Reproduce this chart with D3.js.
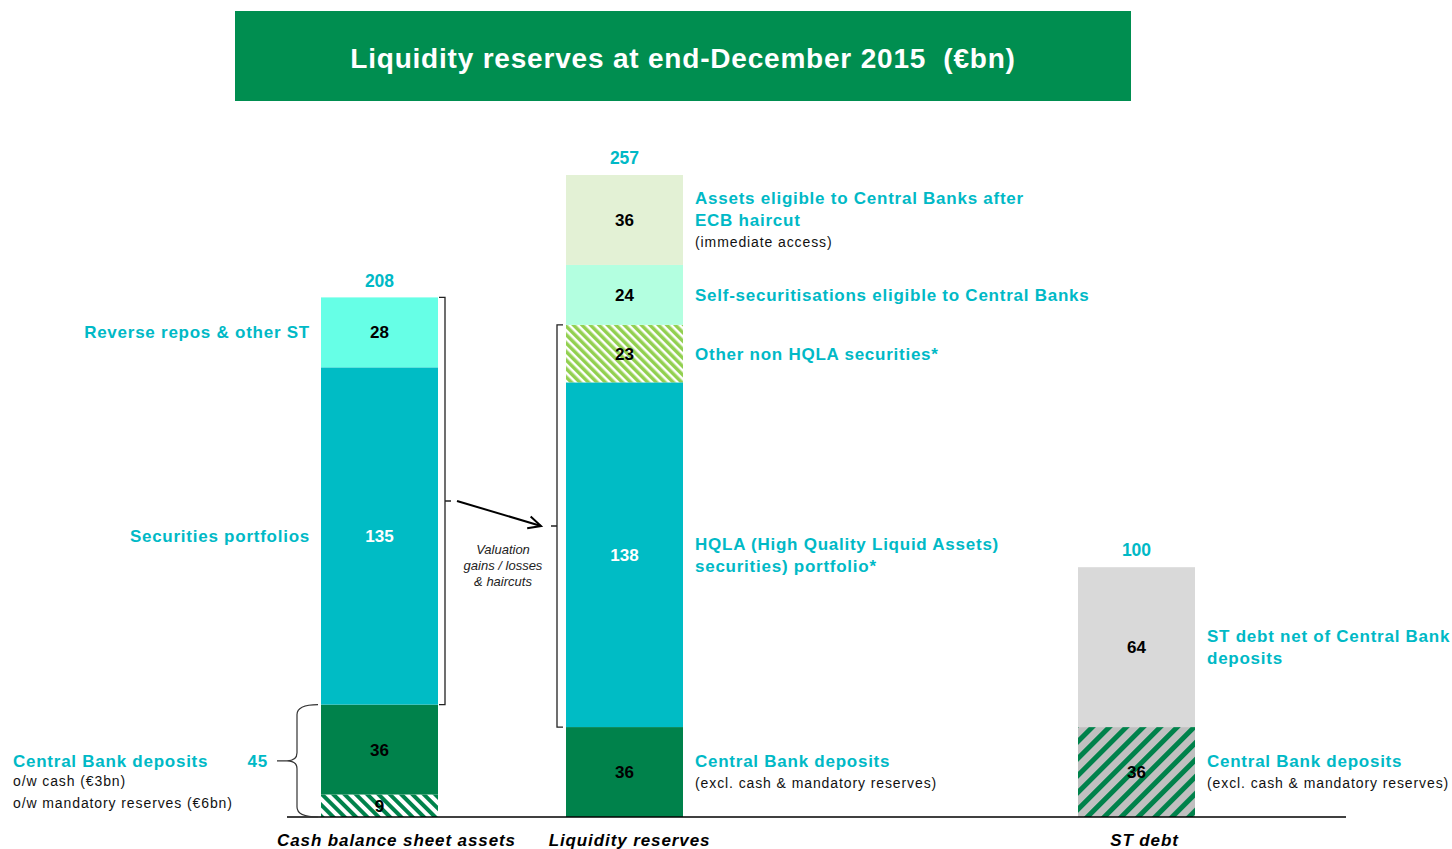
<!DOCTYPE html>
<html>
<head>
<meta charset="utf-8">
<script src="https://cdn.jsdelivr.net/npm/d3@7"></script>
<style>
  body { margin: 0; background: #fff; }
  svg { font-family: "Liberation Sans", Arial, sans-serif; }
</style>
</head>
<body>
<div id="chart"></div>
<script>
// Data
const categories = ['Cash balance sheet assets', 'Liquidity reserves', 'ST debt']
const totals = [208, 257, 100]

const cashSegments = [9, 36, 135, 28]
const cashFills = ['url(#hatchDark)', '#00824B', '#00BCC5', '#66FFE6']
const cashText = ['#000', '#000', '#fff', '#000']

const reserveSegments = [36, 138, 23, 24, 36]
const reserveFills = ['#00824B', '#00BCC5', 'url(#hatchLight)', '#B3FFE0', '#E3F1D5']
const reserveText = ['#000', '#fff', '#000', '#000', '#000']

const debtSegments = [36, 64]
const debtFills = ['url(#hatchGrey)', '#D9D9D9']
const debtText = ['#000', '#000']

const cashLabels = [null, null, ['Securities portfolios'], ['Reverse repos & other ST']]
const reserveLabels = [
  [['Central Bank deposits', 'b'], ['(excl. cash & mandatory reserves)', 's']],
  [['HQLA (High Quality Liquid Assets)', 'b'], ['securities) portfolio*', 'b']],
  [['Other non HQLA securities*', 'b']],
  [['Self-securitisations eligible to Central Banks', 'b']],
  [['Assets eligible to Central Banks after', 'b'], ['ECB haircut', 'b'], ['(immediate access)', 's']]
]
const debtLabels = [
  [['Central Bank deposits', 'b'], ['(excl. cash & mandatory reserves)', 's']],
  [['ST debt net of Central Bank', 'b'], ['deposits', 'b']]
]
const cbTotal = 45
const cbNotes = ['o/w cash (€3bn)', 'o/w mandatory reserves (€6bn)']
const valuationNote = ['Valuation', 'gains / losses', '& haircuts']

const teal = '#00B9C6'
const width = 1452
const height = 849
const barWidth = 117

let svg = d3.select('#chart').append('svg')
  .attr('width', width)
  .attr('height', height)

// Patterns
let defs = svg.append('defs')
let makeHatch = function (id, bg, fg, size, stripe, angle) {
  let p = defs.append('pattern')
    .attr('id', id)
    .attr('patternUnits', 'userSpaceOnUse')
    .attr('width', size)
    .attr('height', size)
    .attr('patternTransform', `rotate(${angle})`)
  p.append('rect').attr('width', size).attr('height', size).attr('fill', bg)
  p.append('rect').attr('width', stripe).attr('height', size).attr('fill', fg)
}
makeHatch('hatchDark', '#fff', '#00824B', 8, 4, -45)
makeHatch('hatchLight', '#fff', '#92D050', 6, 3.5, -45)
makeHatch('hatchGrey', '#C0C0C0', '#00824B', 12, 5, 45)

// Title
svg.append('rect')
  .attr('x', 235).attr('y', 11)
  .attr('width', 896).attr('height', 90)
  .attr('fill', '#008E50')
svg.append('text')
  .attr('x', 683).attr('y', 58)
  .attr('dy', '0.35em')
  .attr('text-anchor', 'middle')
  .attr('fill', '#fff')
  .style('font-size', '28px')
  .style('font-weight', 'bold')
  .style('letter-spacing', '0.8px')
  .style('white-space', 'pre')
  .text('Liquidity reserves at end-December 2015  (€bn)')

// Scales
let x = d3.scaleOrdinal()
  .domain(categories)
  .range([379.5, 624.5, 1136.5])
let y = d3.scaleLinear()
  .domain([0, 257])
  .range([817, 175])

let stack = function (values) {
  let acc = 0
  return values.map(v => {
    let s = { y0: acc, y1: acc + v, value: v }
    acc += v
    return s
  })
}

let drawBar = function (cat, values, fills, textColors) {
  let cx = x(cat)
  let segs = stack(values)
  let g = svg.append('g')
  g.selectAll('rect')
    .data(segs)
    .enter()
    .append('rect')
    .attr('x', cx - barWidth / 2)
    .attr('width', barWidth)
    .attr('y', d => y(d.y1))
    .attr('height', d => y(d.y0) - y(d.y1))
    .attr('fill', (d, i) => fills[i])
  g.selectAll('text')
    .data(segs)
    .enter()
    .append('text')
    .attr('x', cx)
    .attr('y', d => (y(d.y0) + y(d.y1)) / 2)
    .attr('dy', '0.35em')
    .attr('text-anchor', 'middle')
    .attr('fill', (d, i) => textColors[i])
    .style('font-size', '17px')
    .style('font-weight', 'bold')
    .text(d => d.value)
  return segs
}

let cashSegs = drawBar(categories[0], cashSegments, cashFills, cashText)
let reserveSegs = drawBar(categories[1], reserveSegments, reserveFills, reserveText)
let debtSegs = drawBar(categories[2], debtSegments, debtFills, debtText)

// Totals
svg.selectAll('.total')
  .data(categories)
  .enter()
  .append('text')
  .attr('class', 'total')
  .attr('x', d => x(d))
  .attr('y', (d, i) => y(totals[i]) - 17)
  .attr('dy', '0.35em')
  .attr('text-anchor', 'middle')
  .attr('fill', teal)
  .style('font-size', '17.5px')
  .style('font-weight', 'bold')
  .text((d, i) => totals[i])

// Baseline
svg.append('line')
  .attr('x1', 287).attr('x2', 1346)
  .attr('y1', y(0)).attr('y2', y(0))
  .attr('stroke', '#000')
  .attr('stroke-width', 1.5)

// Category labels
svg.selectAll('.cat')
  .data(categories)
  .enter()
  .append('text')
  .attr('class', 'cat')
  .attr('x', (d, i) => x(d) + [17, 5, 8][i])
  .attr('y', 840)
  .attr('dy', '0.35em')
  .attr('text-anchor', 'middle')
  .style('font-size', '17px')
  .style('font-weight', 'bold')
  .style('font-style', 'italic')
  .style('letter-spacing', '0.9px')
  .text(d => d)

// Side labels (multi-line, block centred on segment)
let styleLine = function (sel, kind) {
  sel.attr('fill', kind === 'b' ? teal : '#111')
    .style('font-size', kind === 'b' ? '17px' : '14px')
    .style('font-weight', kind === 'b' ? 'bold' : 'normal')
    .style('letter-spacing', kind === 'b' ? '0.75px' : '0.9px')
}
let drawLabels = function (segs, labels, lx, anchor) {
  segs.forEach((s, i) => {
    let lines = labels[i]
    if (!lines) return
    lines = lines.map(l => Array.isArray(l) ? l : [l, 'b'])
    let cy = (y(s.y0) + y(s.y1)) / 2
    let lh = 22
    let start = cy - (lines.length - 1) * lh / 2
    lines.forEach((l, j) => {
      svg.append('text')
        .attr('x', lx)
        .attr('y', start + j * lh)
        .attr('dy', '0.35em')
        .attr('text-anchor', anchor)
        .call(styleLine, l[1])
        .text(l[0])
    })
  })
}
drawLabels(cashSegs, cashLabels, 310, 'end')
drawLabels(reserveSegs, reserveLabels, 695, 'start')
drawLabels(debtSegs, debtLabels, 1207, 'start')

// Curly brace round the central bank deposits (9 + 36)
let braceTop = y(cashSegs[1].y1)
let braceBot = y(0)
let braceMid = (braceTop + braceBot) / 2
let bx = 297
svg.append('path')
  .attr('d', `M318,${braceTop} Q${bx},${braceTop} ${bx},${braceTop + 10}
    L${bx},${braceMid - 8} Q${bx},${braceMid} ${bx - 10},${braceMid}
    L277,${braceMid}
    M${bx - 10},${braceMid} Q${bx},${braceMid} ${bx},${braceMid + 8}
    L${bx},${braceBot - 10} Q${bx},${braceBot} 318,${braceBot}`)
  .attr('fill', 'none')
  .attr('stroke', '#333')
  .attr('stroke-width', 1.2)

svg.append('text')
  .attr('x', 268).attr('y', braceMid)
  .attr('dy', '0.35em')
  .attr('text-anchor', 'end')
  .call(styleLine, 'b')
  .text(cbTotal)
svg.append('text')
  .attr('x', 13).attr('y', braceMid)
  .attr('dy', '0.35em')
  .call(styleLine, 'b')
  .text('Central Bank deposits')
cbNotes.forEach((t, i) => {
  svg.append('text')
    .attr('x', 13).attr('y', braceMid + 20 + i * 22)
    .attr('dy', '0.35em')
    .call(styleLine, 's')
    .text(t)
})

// Brackets
let bracket = function (bx, top, bot, dir) {
  let mid = (top + bot) / 2
  svg.append('path')
    .attr('d', `M${bx - 6 * dir},${top} L${bx},${top} L${bx},${bot} L${bx - 6 * dir},${bot}
      M${bx},${mid} L${bx + 6 * dir},${mid}`)
    .attr('fill', 'none')
    .attr('stroke', '#222')
    .attr('stroke-width', 1.3)
  return mid
}
let leftMid = bracket(445, y(cashSegs[3].y1), y(cashSegs[2].y0), 1)
let rightMid = bracket(557, y(reserveSegs[2].y1), y(reserveSegs[1].y0), -1)

// Arrow
svg.append('line')
  .attr('x1', 457).attr('y1', leftMid)
  .attr('x2', 541).attr('y2', rightMid)
  .attr('stroke', '#000')
  .attr('stroke-width', 2)
let ang = Math.atan2(rightMid - leftMid, 541 - 457)
let ah = 14
svg.append('path')
  .attr('d', `M${541 - ah * Math.cos(ang - 0.45)},${rightMid - ah * Math.sin(ang - 0.45)}
    L541,${rightMid}
    L${541 - ah * Math.cos(ang + 0.45)},${rightMid - ah * Math.sin(ang + 0.45)}`)
  .attr('fill', 'none')
  .attr('stroke', '#000')
  .attr('stroke-width', 2)

let noteY = (leftMid + rightMid) / 2 + 36
valuationNote.forEach((t, i) => {
  svg.append('text')
    .attr('x', 503).attr('y', noteY + i * 16)
    .attr('dy', '0.35em')
    .attr('text-anchor', 'middle')
    .attr('fill', '#222')
    .style('font-size', '13px')
    .style('font-style', 'italic')
    .text(t)
})
</script>
</body>
</html>
